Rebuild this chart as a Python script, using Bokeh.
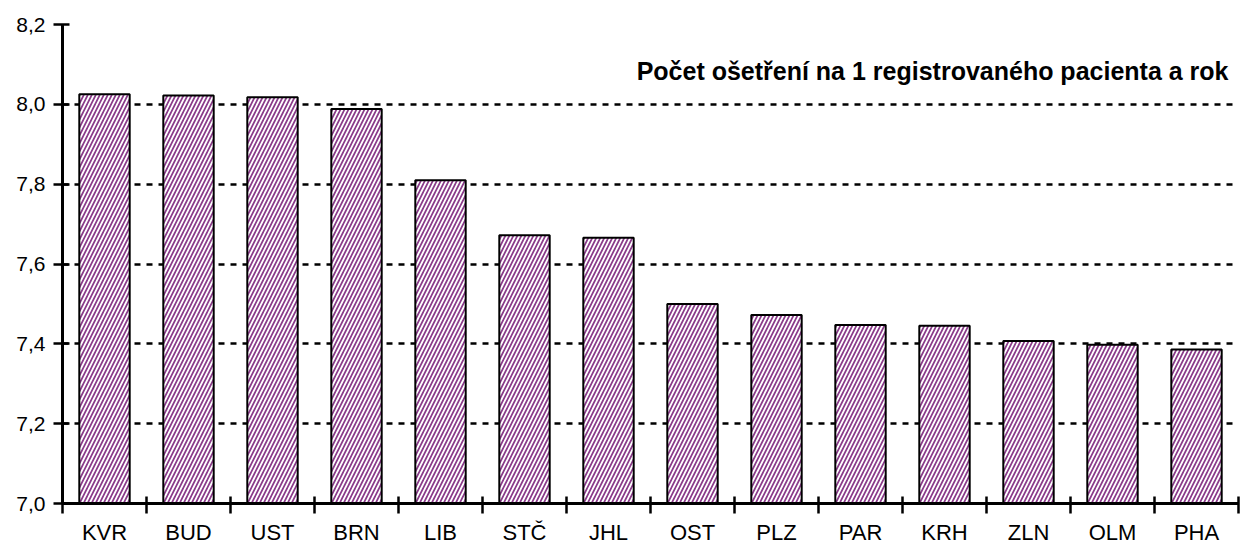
import numpy as np
from bokeh.plotting import figure
from bokeh.models import FixedTicker, Label, ColumnDataSource, Range1d, LinearAxis
from bokeh.embed import file_html
from bokeh.resources import INLINE

categories = ["KVR", "BUD", "UST", "BRN", "LIB", "STČ", "JHL", "OST", "PLZ", "PAR", "KRH", "ZLN", "OLM", "PHA"]
values = [8.025, 8.022, 8.018, 7.988, 7.81, 7.672, 7.666, 7.50, 7.472, 7.447, 7.445, 7.407, 7.398, 7.386]
y_ticks = [7.0, 7.2, 7.4, 7.6, 7.8, 8.0, 8.2]
y_tick_labels = ["7,0", "7,2", "7,4", "7,6", "7,8", "8,0", "8,2"]
title = "Počet ošetření na 1 registrovaného pacienta a rok"

n = len(categories)
xs = np.arange(n) + 0.5
bounds = list(np.arange(n + 1).astype(float))
src = ColumnDataSource(dict(x=xs, top=values))

FONT = "Liberation Sans"

p = figure(width=1240, height=555, output_backend="svg", toolbar_location=None,
           x_range=Range1d(0, n), y_range=Range1d(7.0, 8.2),
           min_border_left=62, min_border_right=2, min_border_top=24, min_border_bottom=52,
           x_axis_location=None)
p.outline_line_color = None
p.background_fill_color = "white"

p.vbar(x="x", top="top", bottom=7.0, width=0.6, source=src,
       fill_color="white", line_color="black", line_width=2,
       hatch_pattern="right_diagonal_line", hatch_color="#8a3a8a",
       hatch_scale=8, hatch_weight=1.7)

# x axis with ticks between categories
ax_ticks = LinearAxis(ticker=FixedTicker(ticks=bounds, minor_ticks=[]))
ax_ticks.major_label_overrides = {b: "" for b in bounds}
ax_ticks.major_label_text_font_size = "0px"
ax_ticks.major_label_standoff = 0
ax_ticks.major_tick_in = 7
ax_ticks.major_tick_out = 10
ax_ticks.major_tick_line_width = 2.5
ax_ticks.major_tick_line_color = "black"
ax_ticks.minor_tick_line_color = None
ax_ticks.axis_line_width = 3
ax_ticks.axis_line_color = "black"
p.add_layout(ax_ticks, "below")

# category labels at centres
ax_lab = LinearAxis(ticker=FixedTicker(ticks=list(xs), minor_ticks=[]))
ax_lab.major_label_overrides = {float(x): c for x, c in zip(xs, categories)}
ax_lab.major_tick_in = 0
ax_lab.major_tick_out = 0
ax_lab.minor_tick_line_color = None
ax_lab.axis_line_color = None
ax_lab.major_label_text_font = FONT
ax_lab.major_label_text_font_size = "22px"
ax_lab.major_label_text_color = "black"
ax_lab.major_label_standoff = 6
p.add_layout(ax_lab, "below")
p.xgrid.grid_line_color = None

# y axis
p.yaxis.ticker = FixedTicker(ticks=y_ticks, minor_ticks=[])
p.yaxis.major_label_overrides = {t: l for t, l in zip(y_ticks, y_tick_labels)}
p.yaxis.major_tick_in = 7
p.yaxis.major_tick_out = 9
p.yaxis.major_tick_line_width = 2.5
p.yaxis.major_tick_line_color = "black"
p.yaxis.minor_tick_line_color = None
p.yaxis.axis_line_width = 3
p.yaxis.axis_line_color = "black"
p.yaxis.major_label_text_font = FONT
p.yaxis.major_label_text_font_size = "21px"
p.yaxis.major_label_text_color = "black"
p.yaxis.major_label_standoff = 8
p.ygrid.grid_line_color = "black"
p.ygrid.grid_line_width = 2.5
p.ygrid.grid_line_dash = "6 6"
p.ygrid.level = "underlay"

lbl = Label(x=1166, y=433, x_units="screen", y_units="screen", text=title,
            text_font=FONT, text_font_style="bold", text_font_size="25px",
            text_align="right", text_baseline="middle", text_color="black")
p.add_layout(lbl)

open("out.html", "w").write(file_html(p, INLINE))
